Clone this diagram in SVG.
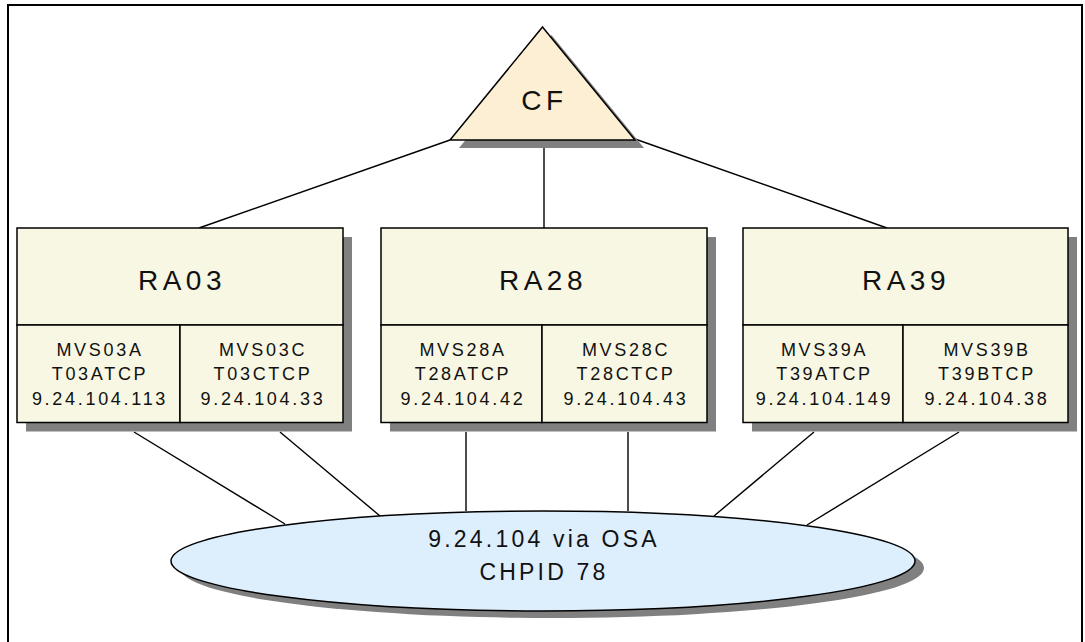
<svg xmlns="http://www.w3.org/2000/svg" width="1085" height="642" viewBox="0 0 1085 642">
  <style>
    .frame { fill: none; stroke: #000; stroke-width: 2; }
    .shadow { fill: #808080; stroke: none; }
    .box { fill: #F8F7E3; stroke: #000; stroke-width: 1.5; }
    .cf { fill: #FDEFD3; stroke: #000; stroke-width: 1.5; }
    .lan { fill: #DDEEFC; stroke: #000; stroke-width: 1.5; }
    .link { stroke: #000; stroke-width: 1.4; fill: none; }
    text { font-family: "Liberation Sans", Arial, sans-serif; fill: #111; text-anchor: middle; }
    .title { font-size: 28px; letter-spacing: 4.5px; }
    .cell { font-size: 18px; letter-spacing: 2.7px; }
    .net { font-size: 23px; letter-spacing: 3.2px; }
  </style>

  <rect width="1085" height="642" fill="#fff"/>
  <!-- page frame, open at the bottom -->
  <path class="frame" d="M8,650 V5 H1082 V650"/>

  <!-- connectors -->
  <g id="connectors">
    <line class="link" x1="450" y1="140" x2="199" y2="228"/>
    <line class="link" x1="544" y1="140" x2="544" y2="228"/>
    <line class="link" x1="635" y1="139" x2="887" y2="228"/>
    <line class="link" x1="134" y1="432" x2="285" y2="524"/>
    <line class="link" x1="280" y1="432" x2="380" y2="516"/>
    <line class="link" x1="466" y1="432" x2="466" y2="511"/>
    <line class="link" x1="628" y1="432" x2="628" y2="511"/>
    <line class="link" x1="814" y1="432" x2="714" y2="516"/>
    <line class="link" x1="959" y1="432" x2="807" y2="525"/>
  </g>

  <!-- coupling facility -->
  <g id="cf">
    <polygon class="shadow" points="551.5,35 644,148 459,148"/>
    <polygon class="cf" points="542.5,27 635,140 450,140"/>
    <text class="title" x="544.5" y="110">CF</text>
  </g>

  <!-- RA03 -->
  <g id="ra03">
    <rect class="shadow" x="26" y="237" width="326" height="194.5"/>
    <rect class="box" x="17" y="228" width="326" height="97"/>
    <rect class="box" x="17" y="325" width="163" height="97.5"/>
    <rect class="box" x="180" y="325" width="163" height="97.5"/>
    <text class="title" x="182" y="290">RA03</text>
    <text class="cell" x="100" y="355.5">MVS03A</text>
    <text class="cell" x="100" y="380">T03ATCP</text>
    <text class="cell" x="100" y="404.5">9.24.104.113</text>
    <text class="cell" x="263" y="355.5">MVS03C</text>
    <text class="cell" x="263" y="380">T03CTCP</text>
    <text class="cell" x="263" y="404.5">9.24.104.33</text>
  </g>

  <!-- RA28 -->
  <g id="ra28">
    <rect class="shadow" x="390" y="237" width="326" height="194.5"/>
    <rect class="box" x="381" y="228" width="326" height="97"/>
    <rect class="box" x="381" y="325" width="161" height="97.5"/>
    <rect class="box" x="542" y="325" width="165" height="97.5"/>
    <text class="title" x="543" y="290">RA28</text>
    <text class="cell" x="463" y="355.5">MVS28A</text>
    <text class="cell" x="463" y="380">T28ATCP</text>
    <text class="cell" x="463" y="404.5">9.24.104.42</text>
    <text class="cell" x="626" y="355.5">MVS28C</text>
    <text class="cell" x="626" y="380">T28CTCP</text>
    <text class="cell" x="626" y="404.5">9.24.104.43</text>
  </g>

  <!-- RA39 -->
  <g id="ra39">
    <rect class="shadow" x="752" y="237" width="325" height="194.5"/>
    <rect class="box" x="743" y="228" width="325" height="97"/>
    <rect class="box" x="743" y="325" width="160" height="97.5"/>
    <rect class="box" x="903" y="325" width="165" height="97.5"/>
    <text class="title" x="906" y="290">RA39</text>
    <text class="cell" x="824.5" y="355.5">MVS39A</text>
    <text class="cell" x="824.5" y="380">T39ATCP</text>
    <text class="cell" x="824.5" y="404.5">9.24.104.149</text>
    <text class="cell" x="987" y="355.5">MVS39B</text>
    <text class="cell" x="987" y="380">T39BTCP</text>
    <text class="cell" x="987" y="404.5">9.24.104.38</text>
  </g>

  <!-- OSA network -->
  <g id="network">
    <ellipse class="shadow" cx="552" cy="568" rx="372" ry="50"/>
    <ellipse class="lan" cx="543" cy="561" rx="372" ry="50"/>
    <text class="net" x="544" y="547">9.24.104 via OSA</text>
    <text class="net" x="544" y="580">CHPID 78</text>
  </g>
</svg>
